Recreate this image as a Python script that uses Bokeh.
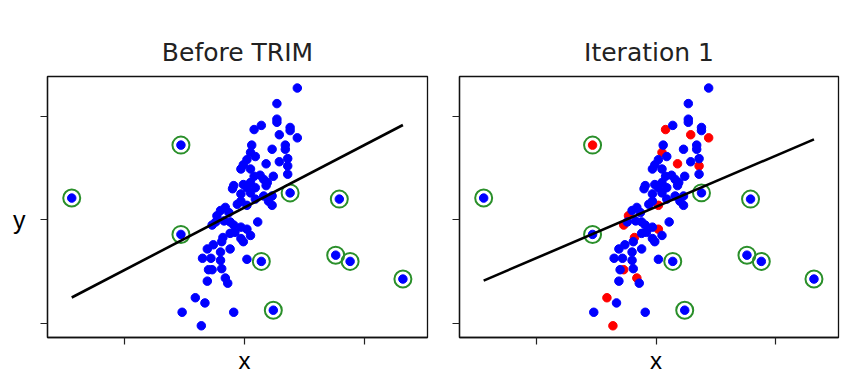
from bokeh.plotting import figure
from bokeh.layouts import row
from bokeh.models import FixedTicker, Range1d
from bokeh.embed import file_html
from bokeh.resources import INLINE

# ---- data (axis values are unitless) ----
# main cloud of points
clu_x = [0.44, 0.27, 0.27, 0.27, 0.08, 0.14, 0.38, 0.38, 0.29, 0.44,
         0.06, 0.34, 0.34, 0.23, 0.05, 0.02, 0.18, 0.09, 0.29, 0.36,
         0.36, -0.01, -0.03, 0.05, 0.08, 0.13, 0.16, 0.24, 0.36, 0.05,
         -0.01, -0.09, -0.10, 0.02, 0.09, 0.19, 0.18, -0.03, 0.05, 0.16,
         0.23, 0.20, 0.23, 0.09, -0.03, -0.06, 0.02, -0.16, -0.20, -0.13,
         -0.23, -0.24, -0.17, -0.27, -0.12, -0.09, -0.03, -0.08, 0.02, 0.11,
         0.05, -0.01, -0.03, -0.12, -0.18, -0.19, -0.26, -0.31, -0.20, -0.12,
         -0.35, -0.28, -0.20, -0.19, 0.02, -0.30, -0.27, -0.31, -0.16, -0.14,
         -0.41, -0.33, -0.52, -0.09, -0.36]
clu_y = [1.27, 1.12, 0.97, 0.94, 0.87, 0.91, 0.89, 0.86, 0.82, 0.79,
         0.72, 0.72, 0.68, 0.68, 0.65, 0.58, 0.54, 0.61, 0.56, 0.59,
         0.52, 0.53, 0.49, 0.49, 0.42, 0.43, 0.39, 0.42, 0.44, 0.36,
         0.34, 0.33, 0.30, 0.31, 0.31, 0.36, 0.33, 0.25, 0.26, 0.23,
         0.23, 0.18, 0.14, 0.20, 0.18, 0.15, 0.14, 0.12, 0.09, 0.07,
         0.04, -0.02, -0.01, -0.05, -0.02, -0.05, -0.07, -0.12, -0.09, -0.02,
         -0.15, -0.21, -0.18, -0.13, -0.17, -0.21, -0.24, -0.28, -0.31, -0.28,
         -0.37, -0.37, -0.39, -0.47, -0.38, -0.48, -0.48, -0.59, -0.56, -0.61,
         -0.75, -0.80, -0.89, -0.89, -1.02]
# 1 = point trimmed (red) in iteration 1
clu_trim1 = [0, 0, 0, 0, 1, 0, 0, 0, 1, 1,
             0, 0, 0, 0, 1, 0, 1, 0, 0, 0,
             1, 0, 0, 0, 0, 0, 0, 0, 0, 0,
             0, 0, 0, 0, 0, 0, 0, 0, 0, 0,
             0, 0, 0, 0, 0, 0, 1, 0, 0, 0,
             1, 0, 0, 1, 0, 0, 0, 0, 1, 0,
             0, 0, 0, 0, 1, 0, 0, 0, 0, 0,
             0, 0, 0, 0, 0, 0, 1, 0, 1, 0,
             1, 0, 0, 0, 1]

# circled outliers
out_x = [-1.44, -0.53, -0.53, 0.38, 0.79, 0.14, 0.76, 0.88, 1.32, 0.24]
out_y = [0.21, 0.72, -0.14, 0.26, 0.20, -0.40, -0.34, -0.40, -0.57, -0.87]
out_trim1 = [0, 1, 0, 0, 0, 0, 0, 0, 0, 0]

# fitted lines (slope, intercept)
fit_before = (0.602, 0.119)
fit_iter1 = (0.493, 0.125)

x_ticks = [-1, 0, 1]
y_ticks = [-1, 0, 1]
titles = ["Before TRIM", "Iteration 1"]
x_label = "x"
y_label = "y"

X_RANGE = (-1.642, 1.525)
Y_RANGE = (-1.133, 1.381)

all_x = clu_x + out_x
all_y = clu_y + out_y
all_trim1 = clu_trim1 + out_trim1


def make_panel(title, fit, trim, width, bl, br, show_ylabel):
    p = figure(width=width, height=376, output_backend="svg", toolbar_location=None,
               x_range=Range1d(*X_RANGE), y_range=Range1d(*Y_RANGE),
               min_border_left=bl, min_border_right=br,
               min_border_top=76, min_border_bottom=36)
    p.title.text = title
    p.title.align = "center"
    p.title.text_font = "DejaVu Sans"
    p.title.text_font_size = "25px"
    p.title.text_font_style = "normal"
    p.title.text_color = "#222222"
    p.title.standoff = 19
    p.grid.visible = False
    p.outline_line_color = "#111111"
    p.outline_line_width = 1.3
    p.background_fill_color = "white"
    p.border_fill_color = "white"
    for ax, tk in ((p.xaxis, x_ticks), (p.yaxis, y_ticks)):
        ax.ticker = FixedTicker(ticks=tk)
        ax.major_tick_out = 7
        ax.major_tick_in = 0
        ax.minor_tick_out = 0
        ax.minor_tick_in = 0
        ax.axis_line_color = "#111111"
        ax.axis_line_width = 1.3
        ax.major_tick_line_color = "#222222"
        ax.major_tick_line_width = 1.2
        ax.major_label_text_font = "Liberation Sans"
        ax.major_label_text_color = "black"
    # axis names shown at the middle tick, like the reference
    p.xaxis.major_label_overrides = {-1: "", 0: x_label, 1: ""}
    p.xaxis.major_label_text_font_size = "24px"
    p.xaxis.major_label_standoff = 2
    p.yaxis.major_label_overrides = {-1: "", 0: (y_label if show_ylabel else ""), 1: ""}
    p.yaxis.major_label_text_font_size = "25px"
    p.yaxis.major_label_standoff = 15

    # points: red (trimmed) first, then blue
    rx = [x for x, t in zip(all_x, trim) if t]
    ry = [y for y, t in zip(all_y, trim) if t]
    bx = [x for x, t in zip(all_x, trim) if not t]
    by = [y for y, t in zip(all_y, trim) if not t]
    if rx:
        p.scatter(rx, ry, size=8.5, color="#ff0000", line_color="#ff0000")
    p.scatter(bx, by, size=8.5, color="#0000ff", line_color="#0000ff")

    # circles around outliers
    p.scatter(out_x, out_y, size=17, fill_color=None, line_color="#2a8f2a", line_width=2)

    # fitted line
    m, b = fit
    lx = [min(all_x), max(all_x)]
    ly = [b + m * v for v in lx]
    p.line(lx, ly, line_color="black", line_width=2.6)
    return p


p1 = make_panel(titles[0], fit_before, [0] * len(all_x), 445, 47, 18, True)
p2 = make_panel(titles[1], fit_iter1, all_trim1, 399, 14, 6, False)

layout = row(p1, p2)
open("out.html", "w").write(file_html(layout, INLINE))
